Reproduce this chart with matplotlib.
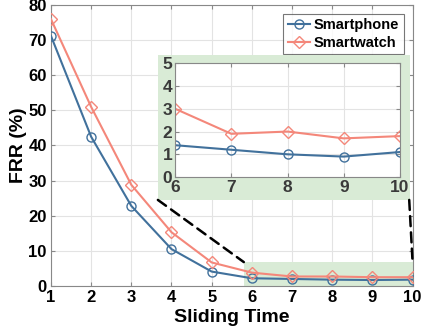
import matplotlib.pyplot as plt
from matplotlib.patches import Rectangle
from matplotlib.patches import ConnectionPatch

plt.rcParams["font.family"] = ["Liberation Sans", "DejaVu Sans"]
plt.rcParams["font.weight"] = "bold"

sliding_time = [1, 2, 3, 4, 5, 6, 7, 8, 9, 10]
frr_phone = [71.2, 42.5, 22.8, 10.5, 4.1, 2.2, 2.0, 1.8, 1.7, 1.8]
frr_watch = [76.0, 51.0, 28.8, 15.3, 6.7, 3.8, 2.7, 2.7, 2.5, 2.5]

# zoomed detail for the last five sliding times
zoom_time = [6, 7, 8, 9, 10]
zoom_phone = [1.4, 1.2, 1.0, 0.9, 1.1]
zoom_watch = [3.0, 1.9, 2.0, 1.7, 1.8]

c_phone = "#41719c"
c_watch = "#f4877a"
c_green = "#d9ebd6"

fig = plt.figure(figsize=(4.21, 3.31), dpi=100)
ax = fig.add_axes([0.121, 0.136, 0.859, 0.849])

ax.add_patch(Rectangle((5.8, 0), 4.2, 6.8, facecolor=c_green, edgecolor="none", zorder=1))
ax.plot(sliding_time, frr_phone, "-o", color=c_phone, mfc="none", ms=6.5, lw=1.5, label="Smartphone", zorder=3)
ax.plot(sliding_time, frr_watch, "-D", color=c_watch, mfc="none", ms=6, lw=1.5, label="Smartwatch", zorder=3)

ax.set_xlim(1, 10)
ax.set_ylim(0, 80)
ax.set_xticks(sliding_time)
ax.set_yticks(range(0, 81, 10))
ax.grid(True, color="#e3e3e3", lw=0.8, zorder=0)
ax.set_axisbelow(True)
ax.tick_params(direction="in", labelsize=12, length=3, color="#888888", pad=3, top=True, right=True)
for lbl in ax.get_xticklabels() + ax.get_yticklabels():
    lbl.set_fontweight("bold")
for sp in ax.spines.values():
    sp.set_color("#888888")
ax.set_xlabel("Sliding Time", fontsize=14, fontweight="bold", labelpad=3)
ax.set_ylabel("FRR (%)", fontsize=14, fontweight="bold", labelpad=1)

leg = ax.legend(loc="upper right", fontsize=10.5, frameon=True, fancybox=False,
                borderpad=0.3, handlelength=1.5, handletextpad=0.3, labelspacing=0.25,
                borderaxespad=0.6)
leg.get_frame().set_edgecolor("#555555")
leg.get_frame().set_linewidth(0.8)
for t in leg.get_texts():
    t.set_fontweight("bold")

# green panel behind the inset
bg = Rectangle((0.375, 0.396), 0.599, 0.438, transform=fig.transFigure,
               facecolor=c_green, edgecolor="none", zorder=2)
fig.patches.append(bg)

for (fx, fy), (dx, dy) in [((0.375, 0.396), (5.8, 6.8)), ((0.972, 0.396), (10, 6.8))]:
    con = ConnectionPatch(xyA=(fx, fy), coordsA=fig.transFigure, xyB=(dx, dy), coordsB=ax.transData,
                          linestyle=(0, (4, 2.5)), color="black", lw=1.8, zorder=4)
    fig.add_artist(con)

ins = fig.add_axes([0.416, 0.465, 0.534, 0.344])
ins.set_zorder(5)
ins.plot(zoom_time, zoom_phone, "-o", color=c_phone, mfc="none", ms=6.5, lw=1.5)
ins.plot(zoom_time, zoom_watch, "-D", color=c_watch, mfc="none", ms=6, lw=1.5)
ins.set_xlim(6, 10)
ins.set_ylim(0, 5)
ins.set_xticks(zoom_time)
ins.set_yticks(range(0, 6))
ins.grid(True, color="#e3e3e3", lw=0.8)
ins.tick_params(direction="in", labelsize=12.5, length=3, color="#888888", pad=2,
                labelcolor="#3a3a3a", top=True, right=True)
for lbl in ins.get_xticklabels() + ins.get_yticklabels():
    lbl.set_fontweight("bold")
for sp in ins.spines.values():
    sp.set_color("#888888")

fig.savefig("out.png", dpi=100)
